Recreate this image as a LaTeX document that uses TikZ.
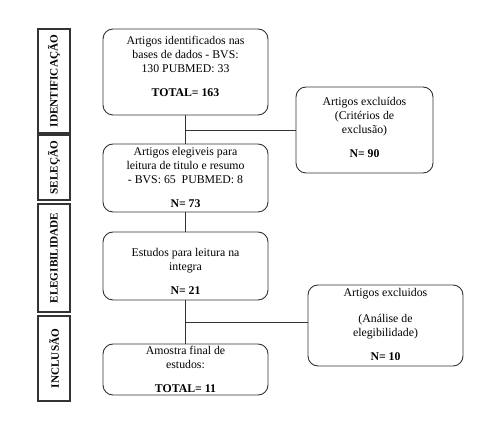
\documentclass[tikz,border=0pt]{standalone}
\usepackage{fontspec}
\setmainfont{Liberation Serif}
\begin{document}
\begin{tikzpicture}[x=1pt,y=-1pt,
  box/.style={draw=black!80, line width=0.9pt, rounded corners=10pt, inner sep=0pt},
  side/.style={draw=black!80, line width=1.2pt, inner sep=0pt, minimum width=32pt},
  sidetxt/.style={rotate=90, font=\fontsize{11.2}{13}\selectfont\bfseries},
  txt/.style={align=center, inner sep=0pt, anchor=north, font=\fontsize{11.8}{14}\selectfont},
  conn/.style={draw=black!80, line width=0.9pt}]
\useasboundingbox (0,0) rectangle (485,427);
% side stage boxes
\node[side, minimum height=104pt] (s1) at (54,81) {};
\node[sidetxt] (s1t) at (s1) {IDENTIFICAÇÃO};
\node[side, minimum height=65pt] (s2) at (54,167.5) {};
\node[sidetxt] (s2t) at (s2) {SELEÇÃO};
\node[side, minimum height=108pt] (s3) at (54,258) {};
\node[sidetxt] (s3t) at (s3) {ELEGIBILIDADE};
\node[side, minimum height=85pt] (s4) at (54,358.5) {};
\node[sidetxt] (s4t) at (s4) {INCLUSÃO};
% main boxes
\node[box, minimum width=165pt, minimum height=86pt] (b1) at (185.5,72) {};
\node[txt] (b1t) at (185.5,36) {Artigos identificados nas\\ bases de dados - BVS:\\ 130 PUBMED: 33\\[10pt] \textbf{TOTAL= 163}};
\node[box, minimum width=165pt, minimum height=68pt] (b2) at (185.5,178) {};
\node[txt] (b2t) at (185.5,147) {Artigos elegiveis para\\ leitura de titulo e resumo\\ - BVS: 65\ \ PUBMED: 8\\[10pt] \textbf{N= 73}};
\node[box, minimum width=165pt, minimum height=68pt] (b3) at (185.5,266) {};
\node[txt] (b3t) at (185.5,248) {Estudos para leitura na\\ integra\\[10pt] \textbf{N= 21}};
\node[box, minimum width=165pt, minimum height=51pt] (b4) at (185.5,369.5) {};
\node[txt] (b4t) at (185.5,346) {Amostra final de\\ estudos:\\[10pt] \textbf{TOTAL= 11}};
% exclusion boxes
\node[box, minimum width=137pt, minimum height=86pt] (e1) at (364.5,130) {};
\node[txt] (e1t) at (364.5,97) {Artigos excluídos\\ (Critérios de\\ exclusão)\\[10pt] \textbf{N= 90}};
\node[box, minimum width=155pt, minimum height=81pt] (e2) at (385.5,325.5) {};
\node[txt] (e2t) at (385.5,288) {Artigos excluidos\\[12pt] (Análise de\\ elegibilidade)\\[10pt] \textbf{N= 10}};
% connectors
\draw[conn] (b1.south) -- (b2.north);
\draw[conn] (b2.south) -- (b3.north);
\draw[conn] (b3.south) -- (b4.north);
\coordinate (j1) at (185.5,130);
\draw[conn] (j1) -- (e1.west);
\coordinate (j2) at (185.5,322);
\draw[conn] (j2) -- (j2 -| e2.west);
\end{tikzpicture}
\end{document}
